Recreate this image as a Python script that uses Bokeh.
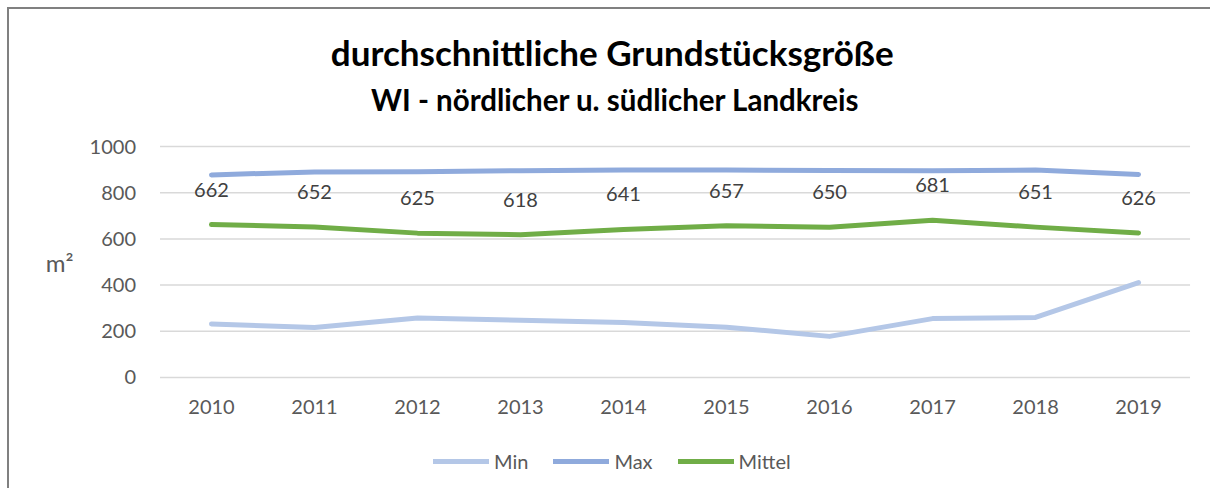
from bokeh.plotting import figure
from bokeh.models import Legend, LegendItem, ColumnDataSource, Range1d, FixedTicker, Label, LinearAxis
from bokeh.embed import file_html
from bokeh.resources import INLINE
from bokeh.core.properties import value

years = [2010, 2011, 2012, 2013, 2014, 2015, 2016, 2017, 2018, 2019]
min_vals = [232, 216, 258, 248, 238, 218, 178, 255, 260, 411]
max_vals = [877, 890, 891, 895, 898, 898, 896, 895, 898, 879]
mittel_vals = [662, 652, 625, 618, 641, 657, 650, 681, 651, 626]
y_ticks = [0, 200, 400, 600, 800, 1000]
title_text = "durchschnittliche Grundstücksgröße"
subtitle_text = "WI - nördlicher u. südlicher Landkreis"
unit_text = "m²"

FONT = "Lato"

src = ColumnDataSource(dict(x=years, mn=min_vals, mx=max_vals, mi=mittel_vals,
                            lbl=[str(v) for v in mittel_vals]))

# frame covers the whole canvas; axes are placed inside it at fixed locations
p = figure(width=1203, height=481, x_range=Range1d(2008.039, 2019.718),
           y_range=Range1d(-489.2, 1593.1), output_backend="svg", toolbar_location=None,
           x_axis_location=None, y_axis_location=None,
           min_border_left=0, min_border_right=0, min_border_top=0, min_border_bottom=0)
p.styles = {"margin-left": "7px", "margin-top": "7px",
            "border-top": "2px solid #808080", "border-left": "2px solid #808080"}
p.outline_line_color = None
p.grid.visible = False

x_left = years[0] - 0.5
x_right = years[-1] + 0.5

xaxis = LinearAxis(fixed_location=0, ticker=FixedTicker(ticks=years))
yaxis = LinearAxis(fixed_location=x_left, ticker=FixedTicker(ticks=y_ticks))
for ax in (xaxis, yaxis):
    ax.axis_line_color = None
    ax.major_tick_line_color = None
    ax.minor_tick_line_color = None
    ax.major_tick_out = 0
    ax.major_tick_in = 0
    ax.major_label_text_font = FONT
    ax.major_label_text_font_size = "20px"
    ax.major_label_text_color = "#595959"
xaxis.major_label_standoff = 23
yaxis.major_label_standoff = 24
p.add_layout(xaxis, "below")
p.add_layout(yaxis, "left")

# horizontal gridlines at the y ticks, spanning the category area
p.segment(x0=[x_left] * len(y_ticks), y0=y_ticks, x1=[x_right] * len(y_ticks), y1=y_ticks,
          line_color="#d9d9d9", line_width=1.5)

r_min = p.line("x", "mn", source=src, line_color="#b4c7e7", line_width=5, line_cap="round", line_join="round")
r_max = p.line("x", "mx", source=src, line_color="#8faadc", line_width=5, line_cap="round", line_join="round")
r_mi = p.line("x", "mi", source=src, line_color="#70ad47", line_width=5, line_cap="round", line_join="round")

p.text("x", "mi", text="lbl", source=src, y_offset=-35, text_align="center", text_baseline="middle",
       text_font=value(FONT), text_font_size="20px", text_color="#404040")

p.add_layout(Label(x=2013.89, y=1407, text=title_text, text_align="center",
                   text_baseline="middle", text_font=FONT, text_font_size="35px",
                   text_font_style="bold", text_color="#000000"))
p.add_layout(Label(x=2013.92, y=1203, text=subtitle_text, text_align="center",
                   text_baseline="middle", text_font=FONT, text_font_size="29.5px",
                   text_font_style="bold", text_color="#000000"))
p.add_layout(Label(x=2008.39, y=498, text=unit_text, text_align="left",
                   text_baseline="middle", text_font=FONT, text_font_size="24px",
                   text_color="#595959"))

legend = Legend(items=[LegendItem(label="Min", renderers=[r_min]),
                       LegendItem(label="Max", renderers=[r_max]),
                       LegendItem(label="Mittel", renderers=[r_mi])],
                location=(424, 17), orientation="horizontal",
                glyph_width=56, glyph_height=20, label_standoff=5, spacing=25,
                padding=0, margin=0, border_line_color=None, background_fill_alpha=0,
                label_text_font=FONT, label_text_font_size="20px", label_text_color="#595959")
p.add_layout(legend)

open("out.html", "w").write(file_html(p, INLINE))
